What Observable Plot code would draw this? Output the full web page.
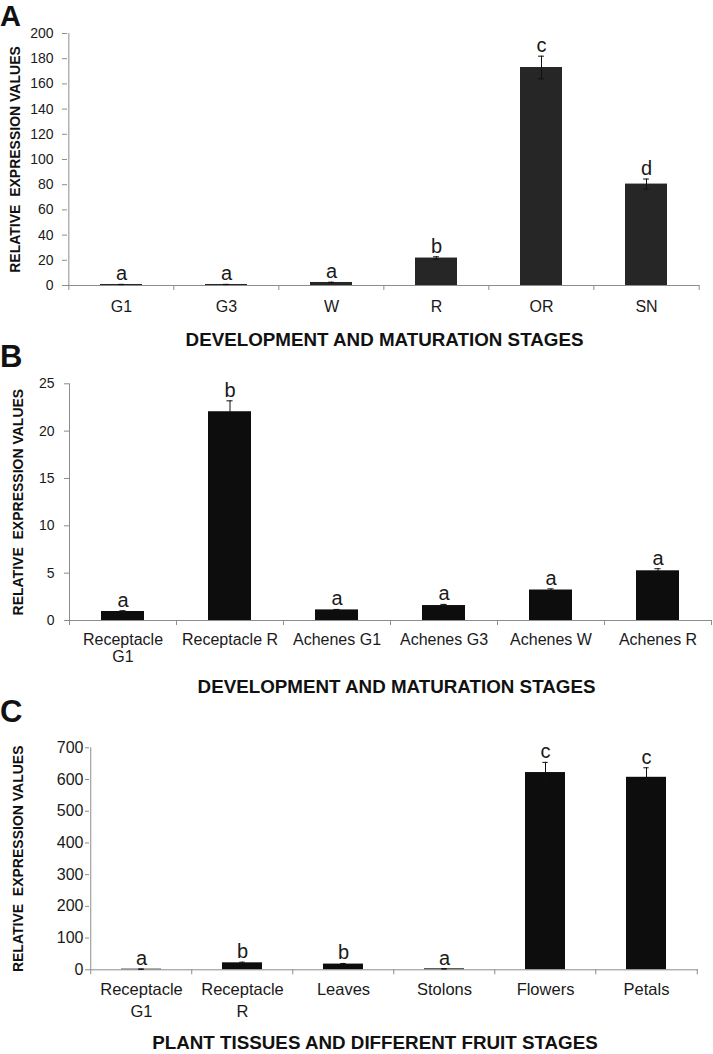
<!DOCTYPE html>
<html>
<head>
<meta charset="utf-8">
<script src="https://cdn.jsdelivr.net/npm/d3@7"></script>
<script src="https://cdn.jsdelivr.net/npm/@observablehq/plot@0.6"></script>
<style>
  html, body { margin: 0; padding: 0; background: #fff; }
  #wrap { position: relative; width: 713px; height: 1054px; overflow: hidden; font-family: "Liberation Sans", Arial, sans-serif; color: #1a1a1a; background: #fff; }
  .panel { position: absolute; left: 0; }
  .plabel { position: absolute; left: 0; font-weight: bold; line-height: 1; font-family: "Liberation Sans", Arial, sans-serif; color: #111; }
</style>
</head>
<body>
<div id="wrap"></div>
<script>
// ---------- Data ----------
const yTitle = "RELATIVE  EXPRESSION VALUES";

// Panel A
const catsA = ["G1", "G3", "W", "R", "OR", "SN"];
const labelsA = ["G1", "G3", "W", "R", "OR", "SN"];
const valuesA = [0.8, 0.8, 2.4, 21.8, 173, 80.5];
const errorsA = [0.1, 0.1, 0.2, 1.0, 9, 4];
const lettersA = ["a", "a", "a", "b", "c", "d"];
const ticksA = [0, 20, 40, 60, 80, 100, 120, 140, 160, 180, 200];
const titleA = "DEVELOPMENT AND MATURATION STAGES";

// Panel B
const catsB = ["Receptacle G1", "Receptacle R", "Achenes G1", "Achenes G3", "Achenes W", "Achenes R"];
const labelsB = ["Receptacle\nG1", "Receptacle R", "Achenes G1", "Achenes G3", "Achenes W", "Achenes R"];
const valuesB = [0.95, 22.05, 1.12, 1.58, 3.22, 5.25];
const errorsB = [0.08, 1.15, 0.05, 0.12, 0.12, 0.22];
const lettersB = ["a", "b", "a", "a", "a", "a"];
const ticksB = [0, 5, 10, 15, 20, 25];
const titleB = "DEVELOPMENT AND MATURATION STAGES";

// Panel C
const catsC = ["Receptacle G1", "Receptacle R", "Leaves", "Stolons", "Flowers", "Petals"];
const labelsC = ["Receptacle\nG1", "Receptacle\nR", "Leaves", "Stolons", "Flowers", "Petals"];
const valuesC = [2, 22, 18, 3, 622, 607];
const errorsC = [0.5, 2, 2, 0.5, 32, 30];
const lettersC = ["a", "b", "b", "a", "c", "c"];
const ticksC = [0, 100, 200, 300, 400, 500, 600, 700];
const titleC = "PLANT TISSUES AND DIFFERENT FRUIT STAGES";

// ---------- Drawing ----------
const W = 713;
const AXIS = "#8c8c8c";
const INK = "#1a1a1a";

function drawPanel(cfg) {
  const n = cfg.cats.length;
  const step = (W - cfg.ml - cfg.mr) / n;
  const bw = 0.4 * step;
  const fh = cfg.h - cfg.mt - cfg.mb;
  const capInset = (bw - 6) / 2;
  const data = cfg.cats.map((c, i) => ({
    cat: c, label: cfg.labels[i], v: cfg.vals[i], e: cfg.errs[i], sig: cfg.sig[i]
  }));
  const yMax = cfg.ticks[cfg.ticks.length - 1];
  return Plot.plot({
    width: W,
    height: cfg.h,
    marginLeft: cfg.ml,
    marginRight: cfg.mr,
    marginTop: cfg.mt,
    marginBottom: cfg.mb,
    style: { fontFamily: '"Liberation Sans", Arial, sans-serif', color: INK, background: "none", overflow: "visible" },
    x: { domain: cfg.cats, paddingInner: 0.6, paddingOuter: 0.3, align: 0.5, axis: null },
    y: { domain: [0, yMax], axis: null },
    marks: [
      Plot.barY(data, { x: "cat", y: "v", fill: cfg.fill }),
      Plot.ruleY([0], { stroke: AXIS }),
      Plot.ruleX([cfg.cats[0]], { x: d => d, dx: -step / 2, y1: 0, y2: yMax, stroke: AXIS }),
      Plot.ruleX(cfg.cats, { x: d => d, dx: -step / 2, insetTop: fh, insetBottom: -5, stroke: AXIS }),
      Plot.ruleX([cfg.cats[n - 1]], { x: d => d, dx: step / 2, insetTop: fh, insetBottom: -5, stroke: AXIS }),
      Plot.axisY({ ticks: cfg.ticks, tickSize: cfg.tickSize, tickPadding: cfg.tickPad, stroke: AXIS, fill: INK, fontSize: cfg.tickFont, label: null, tickFormat: d => String(d) }),
      Plot.ruleX(data, { x: "cat", y1: d => d.v - d.e, y2: d => d.v + d.e, stroke: "#111" }),
      Plot.tickY(data, { x: "cat", y: d => d.v + d.e, insetLeft: capInset, insetRight: capInset, stroke: "#111" }),
      Plot.tickY(data, { x: "cat", y: d => d.v - d.e, insetLeft: capInset, insetRight: capInset, stroke: "#111" }),
      Plot.text(data, { x: "cat", y: d => d.v + d.e, text: "sig", lineAnchor: "bottom", dy: -4, fontSize: 20, fill: INK }),
      Plot.text(data, { x: "cat", text: "label", frameAnchor: "bottom", lineAnchor: "top", dy: cfg.labelDy, fontSize: cfg.labelFont, lineHeight: cfg.lh, fill: INK }),
      Plot.text([cfg.title], { text: d => d, frameAnchor: "bottom", lineAnchor: "middle", dy: cfg.titleDy, dx: cfg.titleDx, fontWeight: "bold", fontSize: 18.8, fill: "#111" }),
      Plot.text([yTitle], { text: d => d, frameAnchor: "left", textAnchor: "middle", dx: cfg.yTitleDx, rotate: -90, fontWeight: "bold", fontSize: 14, fill: "#111" })
    ]
  });
}

const wrap = document.getElementById("wrap");

function place(svg, top) {
  const d = document.createElement("div");
  d.className = "panel";
  d.style.top = top + "px";
  d.appendChild(svg);
  wrap.appendChild(d);
}
function letter(txt, top, size) {
  const d = document.createElement("div");
  d.className = "plabel";
  d.style.top = top + "px";
  d.style.fontSize = size + "px";
  d.textContent = txt;
  wrap.appendChild(d);
}

place(drawPanel({
  cats: catsA, labels: labelsA, vals: valuesA, errs: errorsA, sig: lettersA, ticks: ticksA, title: titleA,
  h: 352, ml: 67, mr: 14, mt: 33, mb: 67, fill: "#262626",
  tickFont: 14, tickSize: 5, tickPad: 9, labelFont: 16, lh: 1.2, labelDy: 12.5, titleDy: 54, titleDx: 1, yTitleDx: -52
}), 0);

place(drawPanel({
  cats: catsB, labels: labelsB, vals: valuesB, errs: errorsB, sig: lettersB, ticks: ticksB, title: titleB,
  h: 343, ml: 69, mr: 2, mt: 31.3, mb: 75, fill: "#0d0d0d",
  tickFont: 14, tickSize: 5, tickPad: 10, labelFont: 16, lh: 1.05, labelDy: 12.5, titleDy: 66, titleDx: 6, yTitleDx: -51
}), 352);

place(drawPanel({
  cats: catsC, labels: labelsC, vals: valuesC, errs: errorsC, sig: lettersC, ticks: ticksC, title: titleC,
  h: 359, ml: 89, mr: 15, mt: 52.3, mb: 84.7, fill: "#0d0d0d",
  tickFont: 16, tickSize: 4, tickPad: 2, labelFont: 16.5, lh: 1.32, labelDy: 9.8, titleDy: 73.5, titleDx: -19, yTitleDx: -71
}), 695);

letter("A", 2, 29);
letter("B", 341, 31);
letter("C", 696, 31);
</script>
</body>
</html>
